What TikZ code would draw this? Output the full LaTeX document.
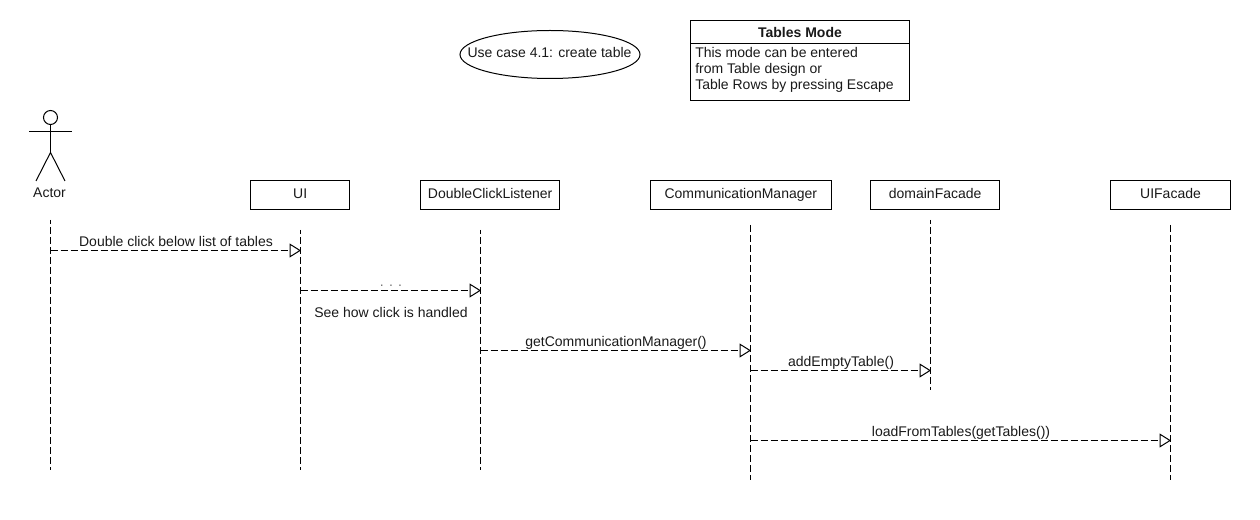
\documentclass[tikz,border=0pt]{standalone}
\usepackage{fontspec}
\setmainfont{Liberation Sans}
\usetikzlibrary{arrows.meta,shapes.geometric}
\tikzset{
  every node/.style={font=\fontsize{10.5pt}{12pt}\selectfont,text=black!90,inner sep=0pt},
  objbox/.style={draw=black,line width=0.75pt,minimum height=21.75pt,anchor=north west,text height=8pt,text depth=2.75pt},
  lifeline/.style={draw=black,line width=0.75pt,dash pattern=on 5.4pt off 2.1pt},
  shiftedlife/.style={lifeline,dash phase=2.25pt},
  msg/.style={draw=black,line width=0.7pt,dash pattern=on 5.4pt off 2.1pt,-{Triangle[open,length=8.6pt,width=10.5pt,line width=0.75pt]}},
  msglabel/.style={anchor=base},
  limb/.style={draw=black,line width=0.75pt}
}
\begin{document}
\begin{tikzpicture}[x=0.75pt,y=-0.75pt]
\useasboundingbox (0,0) rectangle (1260,520);
% use case
\node[ellipse,draw=black,line width=0.75pt,minimum width=135pt,minimum height=36pt] (uc) at (550,54.5) {};
\node[anchor=base] (uctext) at (549.5,58) {Use case 4.1: create table};
% note
\node[draw=black,line width=0.75pt,anchor=north west,minimum width=164.5pt,minimum height=60pt] (note) at (690,20) {};
\coordinate (divl) at (note.west |- 0,43.5);
\coordinate (divr) at (note.east |- 0,43.5);
\draw[limb] (divl) -- (divr);
\node[anchor=base,font=\fontsize{10.5pt}{12pt}\bfseries] (notetitle) at (800,38) {Tables Mode};
\node[anchor=base west] (note1) at (695,58) {This mode can be entered};
\node[anchor=base west] (note2) at (695,74) {from Table design or};
\node[anchor=base west] (note3) at (695,90) {Table Rows by pressing Escape};
% actor
\node[circle,draw=black,line width=0.75pt,minimum size=10.5pt] (head) at (50.5,117.5) {};
\coordinate (neck) at (50.5,131.5);
\coordinate (armL) at (29,131.5);
\coordinate (armR) at (72,131.5);
\coordinate (hip) at (50.5,152.5);
\coordinate (legL) at (36,181);
\coordinate (legR) at (65,181);
\draw[limb] (head) -- (hip);
\draw[limb] (armL) -- (armR);
\draw[limb] (legL) -- (hip) -- (legR);
\node[anchor=base] (actor) at (49.5,198) {Actor};
% objects
\node[objbox,minimum width=74.5pt] (ui) at (250,180) {UI};
\node[objbox,minimum width=104.5pt] (dcl) at (420,180) {DoubleClickListener};
\node[objbox,minimum width=135.5pt] (cm) at (650,180) {CommunicationManager};
\node[objbox,minimum width=97pt] (df) at (870,180) {domainFacade};
\node[objbox,minimum width=90pt] (uf) at (1110,180) {UIFacade};
% lifelines
\coordinate (a0) at (50.5,220); \coordinate (a1) at (50.5,470);
\coordinate (u0) at (300.5,230); \coordinate (u1) at (300.5,470);
\coordinate (d0) at (480.5,230); \coordinate (d1) at (480.5,470);
\coordinate (c0) at (750.5,225); \coordinate (c1) at (750.5,480);
\coordinate (f0) at (930.5,220); \coordinate (f1) at (930.5,390);
\coordinate (i0) at (1170.5,225); \coordinate (i1) at (1170.5,480);
\draw[shiftedlife] (a0) -- (a1);
\draw[shiftedlife] (u0) -- (u1);
\draw[shiftedlife] (d0) -- (d1);
\draw[lifeline] (c0) -- (c1);
\draw[shiftedlife] (f0) -- (f1);
\draw[lifeline] (i0) -- (i1);
% messages
\coordinate (m1a) at (50.5,250.5); \coordinate (m1b) at (301,250.5);
\coordinate (m2a) at (300.5,290.5); \coordinate (m2b) at (481,290.5);
\coordinate (m3a) at (480.5,350.5); \coordinate (m3b) at (751,350.5);
\coordinate (m4a) at (750.5,370.5); \coordinate (m4b) at (931,370.5);
\coordinate (m5a) at (750.5,440.5); \coordinate (m5b) at (1171,440.5);
\draw[msg] (m1a) -- (m1b);
\draw[msg] (m2a) -- (m2b);
\draw[msg] (m3a) -- (m3b);
\draw[msg] (m4a) -- (m4b);
\draw[msg] (m5a) -- (m5b);
\node[msglabel] (l1) at (176,246.5) {Double click below list of tables};
\node[msglabel,text=black!55] (l2) at (391,286.5) {. . .};
\node[msglabel] (l2b) at (391,317) {See how click is handled};
\node[msglabel] (l3) at (616,346.5) {getCommunicationManager()};
\node[msglabel] (l4) at (841,366.5) {addEmptyTable()};
\node[msglabel] (l5) at (961,436.5) {loadFromTables(getTables())};
\end{tikzpicture}
\end{document}
